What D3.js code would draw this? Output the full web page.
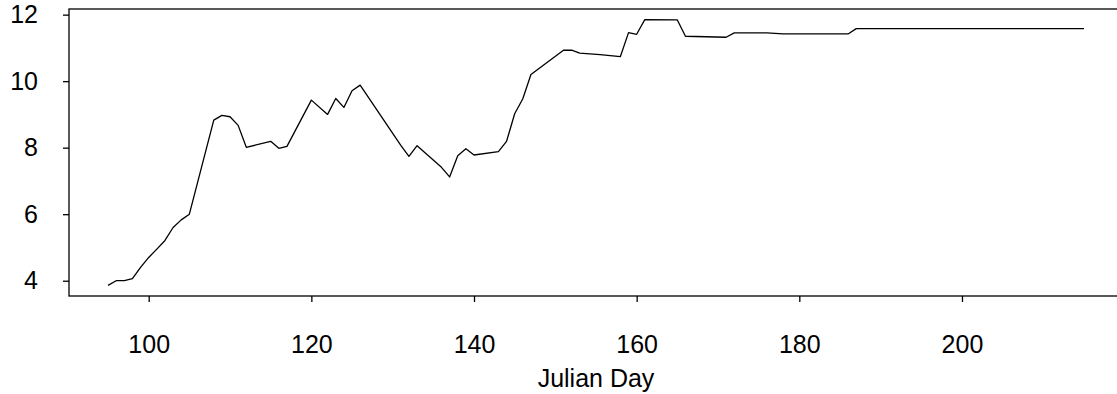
<!DOCTYPE html>
<html>
<head>
<meta charset="utf-8">
<script src="https://cdn.jsdelivr.net/npm/d3@7"></script>
<style>
  body { margin: 0; background: #fff; }
  svg { display: block; font-family: Arial, "Liberation Sans", sans-serif; }
</style>
</head>
<body>
<div id="chart"></div>
<script>
// Julian day vs value
const days = [95, 96, 97, 98, 99, 100, 101, 102, 103, 104, 105, 108, 109, 110, 111, 112,
  115, 116, 117, 120, 122, 123, 124, 125, 126, 131, 132, 133, 136, 137, 138, 139, 140,
  143, 144, 145, 146, 147, 151, 152, 153, 155.5, 158, 159, 160, 161, 165, 166, 171, 172,
  176, 178, 186, 187, 215];
const values = [3.86, 4.0, 4.0, 4.06, 4.4, 4.7, 4.95, 5.21, 5.6, 5.83, 6.0, 8.83, 8.97, 8.93, 8.67, 8.01,
  8.19, 7.98, 8.04, 9.43, 9.0, 9.48, 9.21, 9.71, 9.88, 8.07, 7.74, 8.06, 7.41, 7.12, 7.76, 7.97, 7.78,
  7.88, 8.19, 9.02, 9.47, 10.2, 10.93, 10.93, 10.84, 10.8, 10.74, 11.46, 11.41, 11.85, 11.84, 11.35, 11.32, 11.45,
  11.45, 11.42, 11.42, 11.58, 11.58];
const xTicks = [100, 120, 140, 160, 180, 200];
const yTicks = [4, 6, 8, 10, 12];

const width = 1117, height = 394;
const margin = { top: 9, right: -6, bottom: 98, left: 69 };
const fontSize = "25px";

const data = days.map((d, i) => ({ day: d, value: values[i] }));

// R style 4% padding on both axes
function padded(ext) {
  const p = (ext[1] - ext[0]) * 0.04;
  return [ext[0] - p, ext[1] + p];
}

const x = d3.scaleLinear()
  .domain(padded(d3.extent(days)))
  .range([margin.left, width - margin.right]);

const y = d3.scaleLinear()
  .domain(padded(d3.extent(values)))
  .range([height - margin.bottom, margin.top]);

const svg = d3.select("#chart").append("svg")
  .attr("width", width)
  .attr("height", height);

// plot box
svg.append("rect")
  .attr("x", margin.left)
  .attr("y", margin.top)
  .attr("width", width - margin.right - margin.left)
  .attr("height", height - margin.bottom - margin.top)
  .attr("fill", "none")
  .attr("stroke", "#000")
  .attr("stroke-width", 1.3);

// x axis
const xAxis = svg.append("g")
  .attr("transform", `translate(0,${height - margin.bottom})`)
  .call(d3.axisBottom(x).tickValues(xTicks).tickSize(6).tickSizeOuter(0).tickPadding(33));
xAxis.select(".domain").remove();
xAxis.selectAll("line").attr("stroke-width", 1.3);
xAxis.selectAll("text").style("font-size", fontSize).attr("fill", "#000");

// y axis
const yAxis = svg.append("g")
  .attr("transform", `translate(${margin.left},0)`)
  .call(d3.axisLeft(y).tickValues(yTicks).tickSize(6).tickSizeOuter(0).tickPadding(25));
yAxis.select(".domain").remove();
yAxis.selectAll("line").attr("stroke-width", 1.3);
yAxis.selectAll("text").style("font-size", fontSize).attr("fill", "#000");

// x axis title
svg.append("text")
  .attr("x", (margin.left + width - margin.right) / 2)
  .attr("y", 387)
  .attr("text-anchor", "middle")
  .style("font-size", fontSize)
  .text("Julian Day");

// the series
svg.append("path")
  .datum(data)
  .attr("fill", "none")
  .attr("stroke", "#000")
  .attr("stroke-width", 1.3)
  .attr("stroke-linejoin", "round")
  .attr("d", d3.line().x(d => x(d.day)).y(d => y(d.value)));
</script>
</body>
</html>
